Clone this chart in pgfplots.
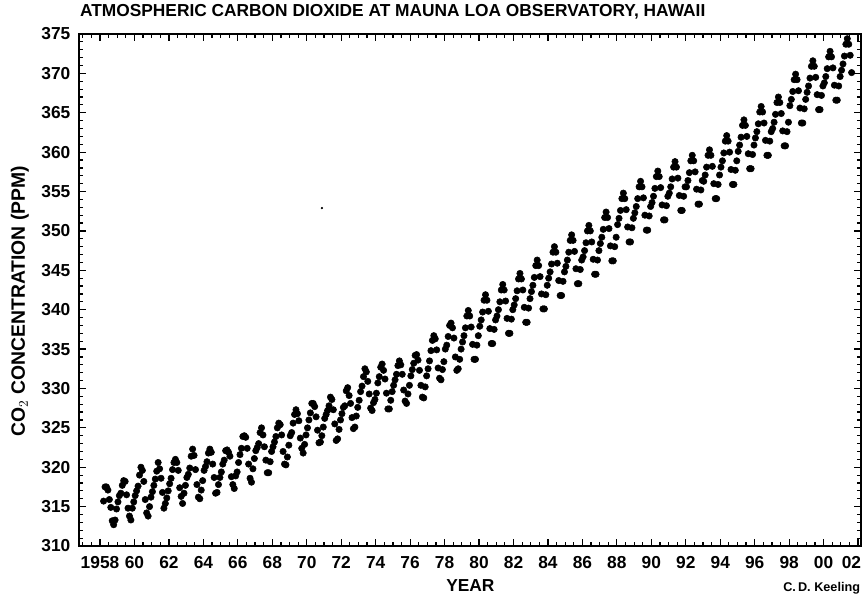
\documentclass[border=0pt]{standalone}
\usepackage{pgfplots}
\usepackage{pgfplotstable}
\pgfplotsset{compat=1.18}
\usepackage{fontspec}
\setmainfont{Liberation Sans}

\pgfplotstableread{
yr m1 m2 m3 m4 m5 m6 m7 m8 m9 m10 m11 m12
1958 nan nan 315.7 317.5 317.5 317.1 315.9 314.9 313.2 312.7 313.3 314.7
1959 315.6 316.4 316.7 317.7 318.3 318.2 316.5 314.8 313.8 313.3 314.8 315.6
1960 316.4 317.0 317.6 319.0 320.0 319.6 318.2 315.9 314.2 313.8 315.0 316.2
1961 316.9 317.7 318.5 319.5 320.6 319.8 318.6 316.8 314.8 315.4 316.1 317.0
1962 317.9 318.6 319.7 320.6 321.0 320.6 319.6 317.4 316.3 315.4 316.7 317.7
1963 318.7 319.1 319.9 321.4 322.3 321.5 319.7 317.8 316.2 316.0 317.1 318.3
1964 319.6 320.1 320.7 321.8 322.3 321.9 320.4 318.7 316.7 316.8 317.8 318.7
1965 319.4 320.4 320.9 322.1 322.2 321.9 321.4 318.8 317.8 317.3 318.9 319.4
1966 320.6 321.6 322.4 323.9 324.0 323.8 322.4 320.4 318.6 318.1 319.8 321.1
1967 322.1 322.5 323.0 324.4 325.0 324.1 322.6 320.9 319.3 319.3 320.7 322.0
1968 322.6 323.2 323.9 325.0 325.6 325.4 324.1 322.0 320.4 320.3 321.3 322.8
1969 324.0 324.4 325.6 326.7 327.3 326.8 325.9 323.7 322.4 321.8 322.9 324.1
1970 325.0 326.0 326.9 328.1 328.1 327.7 326.4 324.7 323.1 323.2 324.0 325.1
1971 326.2 326.7 327.2 327.8 328.9 328.6 327.3 325.5 323.4 323.6 324.8 326.0
1972 326.8 327.6 327.8 329.7 330.1 329.1 328.1 326.3 324.9 325.1 326.5 327.6
1973 328.5 329.6 330.3 331.5 332.5 332.1 330.9 329.3 327.5 327.2 328.2 328.6
1974 329.4 330.7 331.5 332.7 333.1 332.3 331.2 329.4 327.4 327.4 328.5 329.6
1975 330.4 331.1 331.8 332.9 333.5 333.0 331.8 329.8 328.4 328.1 329.3 330.4
1976 331.6 332.4 333.2 334.2 334.3 333.6 332.3 330.4 328.9 328.8 330.2 331.6
1977 332.5 333.5 334.8 336.1 336.7 336.3 334.9 332.6 331.3 331.1 332.4 333.4
1978 335.0 335.5 336.6 338.0 338.3 337.7 336.4 334.0 332.3 332.5 333.7 335.0
1979 335.9 336.7 337.7 339.2 339.9 339.2 337.8 335.6 333.7 333.7 335.5 336.7
1980 337.9 338.7 339.7 341.2 341.9 341.2 339.8 337.6 335.7 335.7 337.5 338.7
1981 339.2 340.0 341.0 342.5 343.2 342.5 341.1 338.9 337.0 337.0 338.8 340.0
1982 340.6 341.4 342.4 343.9 344.6 343.9 342.5 340.3 338.4 338.4 340.2 341.4
1983 342.3 343.1 344.1 345.6 346.3 345.6 344.2 342.0 340.1 340.1 341.9 343.1
1984 344.0 344.8 345.8 347.3 348.0 347.3 345.9 343.7 341.8 341.8 343.6 344.8
1985 345.5 346.3 347.3 348.8 349.5 348.8 347.4 345.2 343.3 343.3 345.1 346.3
1986 346.7 347.5 348.5 350.0 350.7 350.0 348.6 346.4 344.5 344.5 346.3 347.5
1987 348.4 349.2 350.2 351.7 352.4 351.7 350.3 348.1 346.2 346.2 348.0 349.2
1988 350.8 351.6 352.6 354.1 354.8 354.1 352.7 350.5 348.6 348.6 350.4 351.6
1989 352.3 353.1 354.1 355.6 356.3 355.6 354.2 352.0 350.1 350.1 351.9 353.1
1990 353.6 354.4 355.4 356.9 357.6 356.9 355.5 353.3 351.4 351.4 353.2 354.4
1991 354.8 355.6 356.6 358.1 358.8 358.1 356.7 354.5 352.6 352.6 354.4 355.6
1992 355.6 356.4 357.4 358.9 359.6 358.9 357.5 355.3 353.4 353.4 355.2 356.4
1993 356.3 357.1 358.1 359.6 360.3 359.6 358.2 356.0 354.1 354.1 355.9 357.1
1994 358.1 358.9 359.9 361.4 362.1 361.4 360.0 357.8 355.9 355.9 357.7 358.9
1995 360.1 360.9 361.9 363.4 364.1 363.4 362.0 359.8 357.9 357.9 359.7 360.9
1996 361.8 362.6 363.6 365.1 365.8 365.1 363.7 361.5 359.6 359.6 361.4 362.6
1997 363.0 363.8 364.8 366.3 367.0 366.3 364.9 362.7 360.8 360.8 362.6 363.8
1998 365.9 366.7 367.7 369.2 369.9 369.2 367.8 365.6 363.7 363.7 365.5 366.7
1999 367.6 368.4 369.4 370.9 371.6 370.9 369.5 367.3 365.4 365.4 367.2 368.4
2000 368.8 369.6 370.6 372.1 372.8 372.1 370.7 368.5 366.6 366.6 368.4 369.6
2001 370.4 371.2 372.2 373.7 374.4 373.7 372.3 370.1 nan nan nan nan
}\co

\begin{document}
\begin{tikzpicture}
\begin{axis}[
  scale only axis,
  width=586.5pt, height=384pt,
  xmin=1956.78, xmax=2002.17,
  ymin=310, ymax=375,
  axis line style={line width=1.3pt},
  every tick/.style={black, line width=0.9pt},
  major tick length=5pt, minor tick length=3pt,
  tick align=inside,
  xtick={1958,1960,1962,1964,1966,1968,1970,1972,1974,1976,1978,1980,1982,1984,1986,1988,1990,1992,1994,1996,1998,2000,2002},
  xticklabels={1958,60,62,64,66,68,70,72,74,76,78,80,82,84,86,88,90,92,94,96,98,00,{\hspace*{-10pt}02}},
  minor xtick={1957,1957.5,...,2002},
  ytick={310,315,...,375},
  minor ytick={310,311,...,375},
  /pgf/number format/assume math mode=true,
  ticklabel style={font=\bfseries\fontsize{13}{13}\selectfont},
  xticklabel style={yshift=-4pt, text height=9.5pt, text depth=0pt},
  yticklabel style={xshift=-3pt, /pgf/number format/1000 sep={}},
  title={ATMOSPHERIC CARBON DIOXIDE AT MAUNA LOA OBSERVATORY, HAWAII},
  title style={at={(axis description cs:0.001,1.0195)}, anchor=base west, inner sep=0pt, font=\bfseries\fontsize{13}{13}\selectfont},
  xlabel={YEAR},
  xlabel style={at={(axis description cs:0.5005,-0.0898)}, anchor=base, inner sep=0pt, font=\bfseries\fontsize{13}{13}\selectfont},
  ylabel={CO$_2$ CONCENTRATION (PPM)},
  ylabel style={at={(axis description cs:-0.0691,0.4785)}, anchor=base, rotate=0, inner sep=0pt, font=\bfseries\fontsize{14.5}{14.5}\selectfont},
  clip=false,
]
\pgfplotsinvokeforeach{1,...,12}{
  \addplot[only marks, mark=*, mark size=2.4pt, black] table[x expr={\thisrow{yr}+(#1-0.5)/12}, y=m#1]{\co};
}
\addplot[only marks, mark=*, mark size=0.6pt, black] coordinates {(1970.88,352.9)};
\node[anchor=base west, inner sep=0pt, font=\bfseries\fontsize{9.5}{9.5}\selectfont] at (axis description cs:0.9003,-0.0898) {C.\,D. Keeling};
\end{axis}
\pgfresetboundingbox
\path (current axis.south west) ++(-59.25pt,-37.5pt) rectangle ++(646.5pt,447pt);
\end{tikzpicture}
\end{document}
